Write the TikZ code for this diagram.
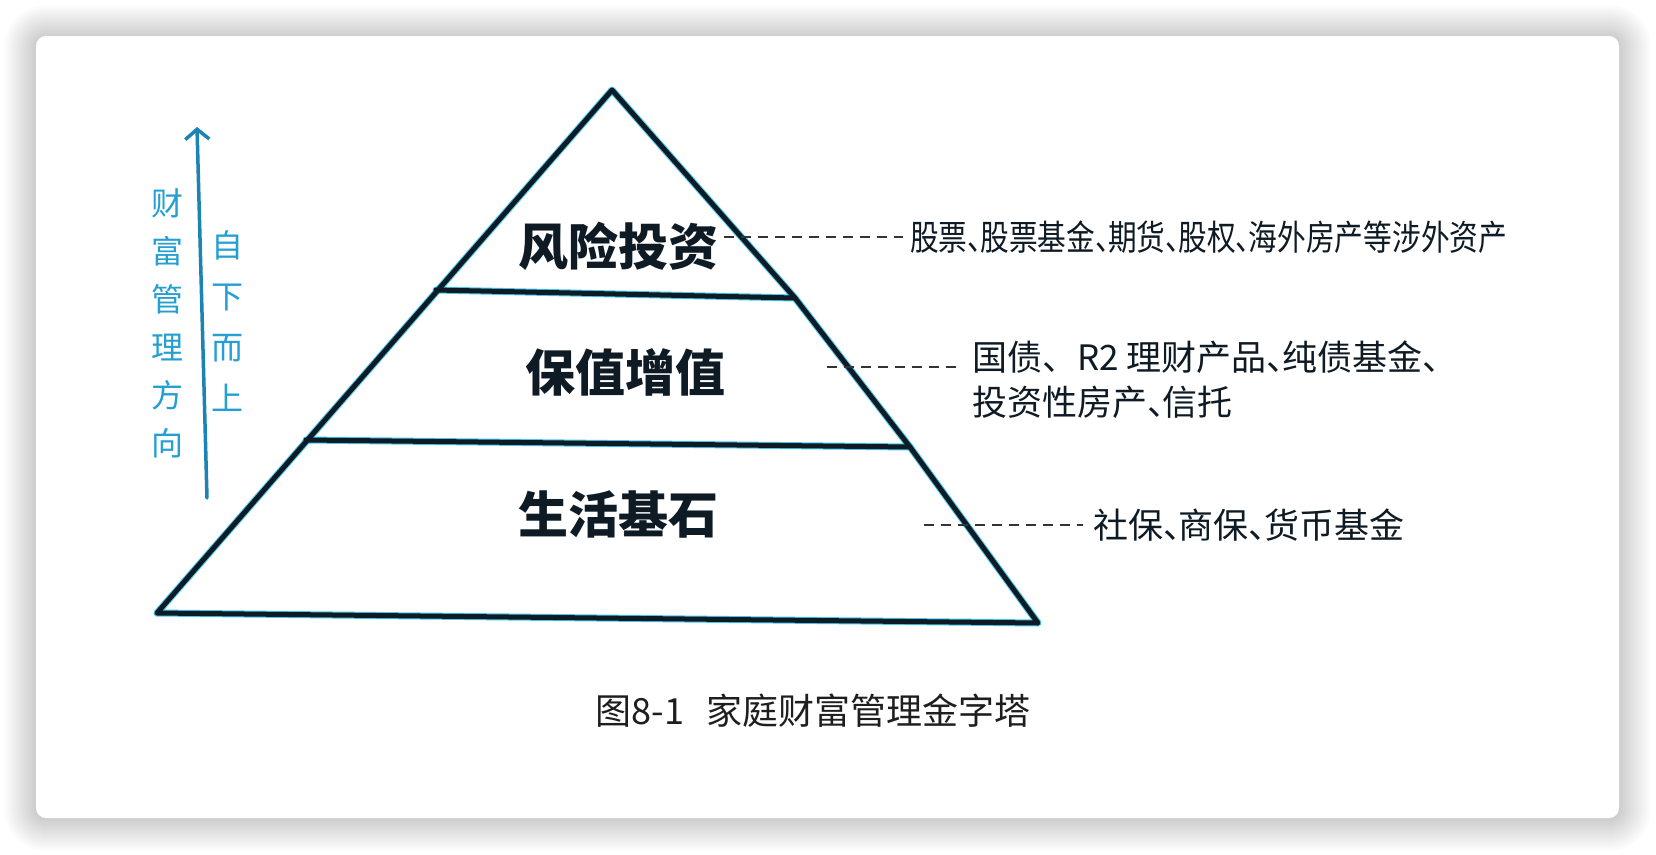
\documentclass[tikz,border=0pt]{standalone}
\usepackage{fontspec}
\newfontfamily\cjk{Noto Sans CJK SC}
\usetikzlibrary{arrows.meta,calc}
\newcommand\dun{\makebox[0.45em][l]{、}}
\definecolor{inkc}{HTML}{0E1A24}
\definecolor{glowc}{HTML}{2EC4F0}
\definecolor{textc}{HTML}{239FD2}
\definecolor{arrowc}{HTML}{1B84B3}
\definecolor{capc}{HTML}{1E1E1E}
\definecolor{dashc}{HTML}{333333}
\tikzset{
  glowline/.style={draw=glowc, line width=7pt, line join=round, line cap=round, opacity=0.9},
  inkline/.style={draw=inkc, line width=5pt, line join=round, line cap=round},
  lab/.style={font=\cjk\bfseries\fontsize{50}{50}\selectfont, text=inkc, inner sep=0pt},
  sidetxt/.style={font=\cjk\fontsize{35}{35}\selectfont, text=inkc, inner sep=0pt, anchor=west},
  vtext/.style={font=\cjk\fontsize{32}{48}\selectfont, text=textc, align=center, inner sep=0pt},
  dsh/.style={draw=dashc, line width=2pt, dash pattern=on 10pt off 7pt},
}
\begin{document}
\begin{tikzpicture}[x=1pt,y=-1pt]
\useasboundingbox (0,0) rectangle (1656,854);
\fill[white] (0,0) rectangle (1656,854);
% shadow
\foreach \i in {1,...,16}{
  \pgfmathsetmacro\rr{10+2*\i}
  \fill[black, fill opacity=0.012, rounded corners=\rr pt] (36-2*\i,37-2*\i) rectangle (1619+2*\i,819+2*\i);
}
% card
\fill[white, rounded corners=10pt] (36,36) rectangle (1619,818);

% pyramid coordinates
\coordinate (A) at (612,90);
\coordinate (BL) at (157,613);
\coordinate (BR) at (1038,623);
\coordinate (L1) at (436,290);
\coordinate (R1) at (795,298);
\coordinate (L2) at (306,440);
\coordinate (R2) at (910,447);

% glow layer
\begin{scope}[shift={(2,3)}]
  \draw[glowline] (A) -- (R1) -- (R2) -- (BR) -- (BL) -- cycle;
  \draw[glowline] (L1) -- (R1);
  \draw[glowline] (L2) -- (R2);
\end{scope}
% ink layer
\draw[inkline] (A) -- (R1) -- (R2) -- (BR) -- (BL) -- cycle;
\draw[inkline] (L1) -- (R1);
\draw[inkline] (L2) -- (R2);

% labels
\node[lab] (lab1) at (618,246) {风险投资};
\node[lab] (lab2) at (625,372) {保值增值};
\node[lab] (lab3) at (618,514) {生活基石};

% side texts
\node[sidetxt, xscale=0.82] (s1) at (910,237) {股票\dun 股票基金\dun 期货\dun 股权\dun 海外房产等涉外资产};
\node[sidetxt] (s2a) at (972,357) {国债、R2 理财产品\dun 纯债基金\dun};
\node[sidetxt] (s2b) at (972,402) {投资性房产\dun 信托};
\node[sidetxt] (s3) at (1093,525) {社保\dun 商保\dun 货币基金};

% dashed connectors
\draw[dsh] ($(lab1.east |- s1.west)+(6,0)$) -- ($(s1.west)+(-7,0)$);
\coordinate (d2) at (827,367);
\draw[dsh] (d2) -- ($(d2 -| s2a.west)+(-14,0)$);
\coordinate (d3) at (924,525);
\draw[dsh] (d3) -- ($(s3.west)+(-10,0)$);

% arrow and vertical text
\coordinate (arrB) at (207,498);
\coordinate (arrT) at (197,127);
\draw[draw=arrowc, line width=3.5pt, line cap=round, -{Straight Barb[length=10pt,width=24pt]}] (arrB) -- (arrT);
\node[vtext] (v1) at (167,323) {财\\富\\管\\理\\方\\向};
\node[vtext, font=\cjk\fontsize{32}{51}\selectfont] (v2) at (227,321) {自\\下\\而\\上};

% caption
\node[font=\cjk\fontsize{36}{36}\selectfont, text=capc, inner sep=0pt] (cap) at (813,711) {图8-1\hspace{0.6em}家庭财富管理金字塔};
\end{tikzpicture}
\end{document}
